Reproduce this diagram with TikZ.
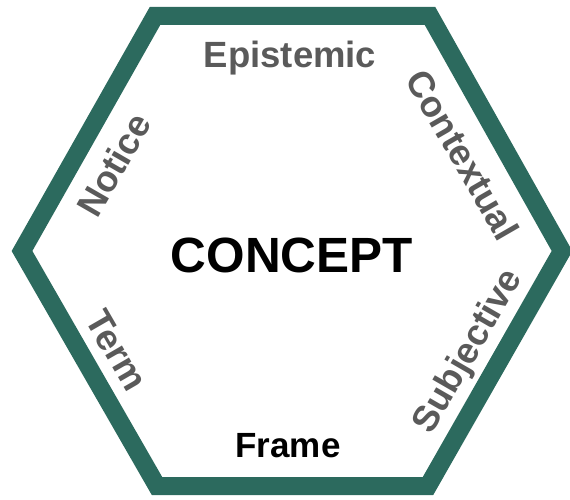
\documentclass[tikz,border=0pt]{standalone}
\usepackage{fontspec}
\setmainfont{Liberation Sans}
\definecolor{hexgreen}{RGB}{44,106,94}
\definecolor{labelgray}{RGB}{90,90,90}
\begin{document}
\begin{tikzpicture}[x=1pt,y=-1pt,
  hexline/.style={draw=hexgreen,line width=18pt,line join=miter},
  side/.style={text=labelgray,font=\bfseries\fontsize{36.5}{36}\selectfont,text height=26pt,text depth=0pt,inner sep=0pt,anchor=center},
  core/.style={text=black,font=\bfseries\fontsize{49.5}{49}\selectfont,text height=35pt,text depth=0pt,inner sep=0pt,anchor=center},
  base/.style={text=black,font=\bfseries\fontsize{35}{35}\selectfont,text height=25pt,text depth=0pt,inner sep=0pt,anchor=center}]
\useasboundingbox (0,0) rectangle (570,500);
\coordinate (v1) at (22,251);
\coordinate (v2) at (155,16);
\coordinate (v3) at (430,16);
\coordinate (v4) at (562,251);
\coordinate (v5) at (428,486);
\coordinate (v6) at (157,486);
\draw[hexline] (v1) -- (v2) -- (v3) -- (v4) -- (v5) -- (v6) -- cycle;
\node[core] (concept) at (292,255) {CONCEPT};
\node[side] (epistemic) at (290,55) {Epistemic};
\node[side,rotate=60] (notice) at (114,165) {Notice};
\node[side,rotate=-60] (contextual) at (463,155) {Contextual};
\node[side,rotate=60] (subjective) at (466,350) {Subjective};
\node[side,rotate=-60] (term) at (117,350) {Term};
\node[base] (frame) at (288,445) {Frame};
\end{tikzpicture}
\end{document}
